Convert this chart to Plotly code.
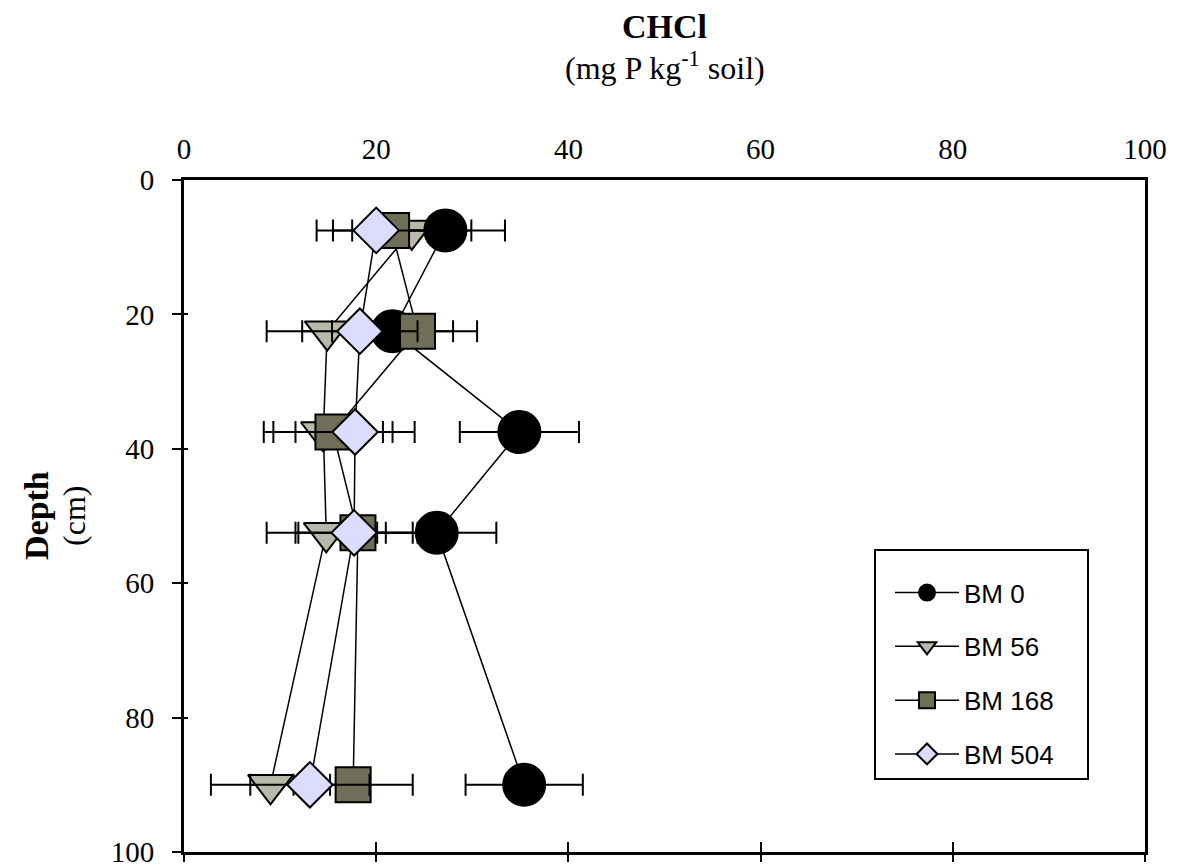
import plotly.graph_objects as go

# ---- data ----
depth = [7.5, 22.5, 37.5, 52.5, 90]
series_names = ["BM 0", "BM 56", "BM 168", "BM 504"]
bm0 = [27.2, 21.7, 34.9, 26.3, 35.4]
bm0_err = [6.2, 6.3, 6.2, 6.2, 6.1]
bm56 = [23.7, 14.9, 14.5, 14.8, 9.0]
bm56_err = [6.2, 6.3, 6.2, 6.2, 6.2]
bm168 = [21.6, 24.3, 15.5, 18.1, 17.6]
bm168_err = [6.1, 6.2, 6.2, 6.2, 6.2]
bm504 = [20.0, 18.3, 17.8, 17.7, 13.1]
bm504_err = [6.2, 6.0, 6.2, 6.1, 6.2]
x_ticks = [0, 20, 40, 60, 80, 100]
y_ticks = [0, 20, 40, 60, 80, 100]

serif = "Liberation Serif, Times New Roman, serif"
sans = "Liberation Sans, Arial, sans-serif"

styles = {
    "BM 0": dict(symbol="circle", size=42, color="#000000", rank=1),
    "BM 56": dict(symbol="triangle-down", size=39, color="#b9b9aa", rank=2),
    "BM 168": dict(symbol="square", size=35, color="#6f6f59", rank=3),
    "BM 504": dict(symbol="diamond", size=35, color="#dcdcff", rank=4),
}
values = {"BM 0": (bm0, bm0_err), "BM 56": (bm56, bm56_err),
          "BM 168": (bm168, bm168_err), "BM 504": (bm504, bm504_err)}

fig = go.Figure()
# drawing order chosen to match overlaps
for name in ["BM 56", "BM 0", "BM 168", "BM 504"]:
    xs, errs = values[name]
    st = styles[name]
    fig.add_trace(go.Scatter(
        x=xs, y=depth, name=name, mode="lines+markers",
        legendrank=st["rank"], legendgroup=name,
        line=dict(color="black", width=1.5),
        marker=dict(symbol=st["symbol"], size=st["size"], color=st["color"],
                    line=dict(color="black", width=2)),
        error_x=dict(type="data", array=errs, symmetric=True, color="black",
                     thickness=2, width=11),
    ))

# helper traces to anchor tick-only overlay axes
fig.add_trace(go.Scatter(x=[None], y=[None], xaxis="x2", yaxis="y", showlegend=False, hoverinfo="skip"))
fig.add_trace(go.Scatter(x=[None], y=[None], xaxis="x3", yaxis="y", showlegend=False, hoverinfo="skip"))
fig.add_trace(go.Scatter(x=[None], y=[None], xaxis="x", yaxis="y2", showlegend=False, hoverinfo="skip"))

axis_common = dict(range=[0, 100], showgrid=False, zeroline=False, automargin=False)
fig.update_layout(
    width=1172, height=859,
    margin=dict(l=176, r=35, t=172, b=15, autoexpand=False),
    paper_bgcolor="white", plot_bgcolor="white",
    xaxis=dict(**axis_common, side="top", tickvals=x_ticks, ticks="",
               showline=True, mirror=True, linecolor="black", linewidth=3,
               tickfont=dict(family=serif, size=29, color="black"),
               ticklabelstandoff=6, ticklabeloverflow="allow"),
    xaxis2=dict(**axis_common, overlaying="x", side="bottom", anchor="y",
                tickvals=x_ticks, ticks="outside", ticklen=9, tickwidth=2,
                tickcolor="black", showticklabels=False, showline=False),
    xaxis3=dict(**axis_common, overlaying="x", side="bottom", anchor="y",
                tickvals=x_ticks, ticks="inside", ticklen=10, tickwidth=2,
                tickcolor="black", showticklabels=False, showline=False),
    yaxis=dict(range=[100, 0], showgrid=False, zeroline=False, tickvals=y_ticks,
               automargin=False,
               ticks="outside", ticklen=9, tickwidth=2, tickcolor="black",
               showline=True, mirror=True, linecolor="black", linewidth=3,
               tickfont=dict(family=serif, size=29, color="black"),
               ticklabelstandoff=12, ticklabeloverflow="allow"),
    yaxis2=dict(range=[100, 0], showgrid=False, zeroline=False, tickvals=y_ticks,
                automargin=False,
                overlaying="y", side="left", anchor="x",
                ticks="inside", ticklen=4, tickwidth=2, tickcolor="black",
                showticklabels=False, showline=False),
    legend=dict(x=0.718, y=0.451, xanchor="left", yanchor="top",
                bgcolor="white", bordercolor="black", borderwidth=2,
                font=dict(family=sans, size=26, color="black"),
                itemwidth=64, tracegroupgap=17, itemsizing="trace",
                indentation=14,
                title=dict(text="&nbsp;" * 53, font=dict(family=sans, size=14))),
    showlegend=True,
)

fig.add_annotation(text="<b>CHCl</b>", xref="paper", yref="paper", x=0.5, y=1.228,
                   xanchor="center", yanchor="middle", showarrow=False,
                   font=dict(family=serif, size=34, color="black"))
fig.add_annotation(text="(mg P kg<sup>-1</sup> soil)", xref="paper", yref="paper",
                   x=0.5, y=1.17, xanchor="center", yanchor="middle", showarrow=False,
                   font=dict(family=serif, size=32, color="black"))
fig.add_annotation(text="<b>Depth</b>", xref="paper", yref="paper", x=-0.154, y=0.5,
                   textangle=-90, xanchor="center", yanchor="middle", showarrow=False,
                   font=dict(family=serif, size=34, color="black"))
fig.add_annotation(text="(cm)", xref="paper", yref="paper", x=-0.1145, y=0.5,
                   textangle=-90, xanchor="center", yanchor="middle", showarrow=False,
                   font=dict(family=serif, size=32, color="black"))

fig.write_html("out.html")
